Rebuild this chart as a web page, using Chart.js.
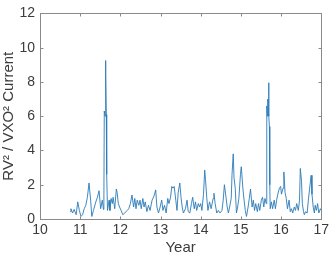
<!DOCTYPE html>
<html><head><meta charset="utf-8">
<script src="https://cdn.jsdelivr.net/npm/chart.js@4"></script>
<style>html,body{margin:0;padding:0;background:#fff}#wrap{width:332px;height:257px}</style>
</head><body><div id="wrap"><canvas id="c" width="332" height="257"></canvas></div>
<script>
const years = [10.75,10.77,10.81,10.85,10.90,10.94,10.98,11.02,11.06,11.10,11.14,11.18,11.22,11.26,11.29,11.33,11.39,11.43,11.47,11.51,11.55,11.58,11.59,11.60,11.62,11.63,11.64,11.65,11.66,11.68,11.72,11.74,11.77,11.80,11.82,11.86,11.90,11.92,11.95,11.98,12.02,12.06,12.11,12.17,12.21,12.25,12.29,12.33,12.36,12.39,12.42,12.46,12.49,12.52,12.56,12.59,12.62,12.66,12.70,12.74,12.79,12.84,12.88,12.91,12.95,12.99,13.03,13.06,13.10,13.14,13.18,13.21,13.25,13.28,13.31,13.34,13.38,13.41,13.44,13.48,13.51,13.54,13.57,13.62,13.66,13.69,13.73,13.77,13.80,13.84,13.87,13.90,13.94,13.97,14.00,14.03,14.07,14.10,14.12,14.15,14.18,14.22,14.26,14.31,14.33,14.36,14.40,14.44,14.48,14.53,14.56,14.59,14.63,14.66,14.69,14.72,14.76,14.78,14.81,14.83,14.86,14.89,14.92,14.95,14.99,15.01,15.05,15.08,15.11,15.14,15.18,15.21,15.24,15.28,15.31,15.34,15.37,15.41,15.44,15.47,15.51,15.54,15.57,15.60,15.63,15.64,15.65,15.66,15.67,15.68,15.69,15.70,15.71,15.72,15.73,15.76,15.79,15.83,15.86,15.89,15.92,15.96,15.99,16.01,16.05,16.07,16.10,16.13,16.16,16.20,16.23,16.26,16.29,16.33,16.36,16.39,16.43,16.46,16.48,16.51,16.53,16.56,16.58,16.61,16.65,16.68,16.71,16.75,16.77,16.80,16.83,16.85,16.88,16.91,16.94,16.98,17.00];
const ratio = [0.43,0.6,0.35,0.56,0.25,1.0,0.5,0.15,0.25,0.6,0.8,1.27,2.1,1.1,0.15,0.5,1.0,1.27,1.65,0.6,1.1,0.55,1.0,6.3,6.0,9.25,8.4,6.1,2.6,0.5,1.1,0.5,1.2,0.9,1.27,0.6,1.75,1.55,0.9,0.7,0.5,0.25,0.35,0.5,0.6,0.9,1.4,0.7,1.2,0.6,1.1,0.8,1.1,0.6,1.2,0.7,1.0,0.43,0.8,0.5,1.1,1.35,1.7,0.7,0.35,0.7,1.1,0.5,0.8,0.35,1.2,0.9,1.27,1.9,1.8,1.9,1.1,0.5,1.55,2.1,1.27,0.7,0.35,0.6,1.1,0.43,0.35,0.9,1.27,0.6,1.0,0.5,0.9,0.7,0.9,0.5,1.45,2.85,2.3,1.27,0.5,1.0,0.6,1.2,1.5,0.9,0.35,0.5,0.35,0.5,1.1,2.0,1.27,0.7,0.35,0.7,1.2,2.6,3.8,2.4,1.8,0.35,0.7,1.2,2.6,3.05,1.8,1.1,0.5,0.15,0.7,1.2,1.75,0.7,1.1,0.5,0.9,0.43,0.9,0.5,1.1,1.27,0.7,1.2,0.9,5.5,6.6,6.0,7.0,6.3,7.95,6.0,5.4,2.0,0.6,1.0,0.6,1.1,0.6,1.1,1.45,1.8,1.9,1.45,1.8,2.75,1.55,1.2,0.6,1.1,0.43,0.6,0.35,0.7,0.5,0.9,0.5,1.1,2.95,2.2,0.9,0.43,0.25,0.43,0.35,1.1,1.75,2.55,1.45,0.7,0.35,0.8,0.5,0.9,0.35,0.6,0.5];
const xTicks = [10,11,12,13,14,15,16,17];
const yTicks = [0,2,4,6,8,10,12];
const xTitle = 'Year';
const yTitle = 'RV\u00B2 / VXO\u00B2 Current';

const AX = '#3c3c3c';
const boxPlugin = {
  id: 'box',
  afterDraw(chart) {
    const {ctx, chartArea: a, scales: {x, y}} = chart;
    ctx.save();
    ctx.strokeStyle = '#8a8a8a';
    ctx.lineWidth = 1;
    const L = Math.round(a.left) + 0.5, R = Math.round(a.right) + 0.5, T = Math.round(a.top) + 0.5, B = Math.round(a.bottom) + 0.5;
    ctx.strokeRect(L, T, R - L, B - T);
    ctx.beginPath();
    xTicks.forEach(v => { const px = Math.round(x.getPixelForValue(v)) + 0.5; ctx.moveTo(px, B); ctx.lineTo(px, B - 3); ctx.moveTo(px, T); ctx.lineTo(px, T + 3); });
    yTicks.forEach(v => { const py = Math.round(y.getPixelForValue(v)) + 0.5; ctx.moveTo(L, py); ctx.lineTo(L + 3, py); ctx.moveTo(R, py); ctx.lineTo(R - 3, py); });
    ctx.stroke();
    ctx.restore();
  }
};

new Chart(document.getElementById('c'), {
  type: 'line',
  data: { datasets: [{ data: years.map((yr, i) => ({x: yr, y: ratio[i]})), borderColor: '#2a7ab8', borderWidth: 0.9, pointRadius: 0, tension: 0, fill: false }] },
  options: {
    responsive: false, animation: false,
    layout: { padding: { top: 5, right: 8, left: 0, bottom: 0 } },
    plugins: { legend: { display: false }, tooltip: { enabled: false } },
    scales: {
      x: {
        type: 'linear', min: 10, max: 17,
        afterBuildTicks: s => { s.ticks = xTicks.map(v => ({value: v})); },
        afterFit: s => { s.height = 38; },
        grid: { display: false, drawTicks: false },
        border: { display: false },
        ticks: { color: AX, font: { family: 'Liberation Sans, Arial', size: 14 }, padding: 3, maxRotation: 0 },
        title: { display: true, text: xTitle, color: AX, font: { family: 'Liberation Sans, Arial', size: 15 }, padding: { top: 0, bottom: 0 } }
      },
      y: {
        min: 0, max: 12,
        afterBuildTicks: s => { s.ticks = yTicks.map(v => ({value: v})); },
        afterFit: s => { s.width = 40; },
        grid: { display: false, drawTicks: false },
        border: { display: false },
        ticks: { color: AX, font: { family: 'Liberation Sans, Arial', size: 14 }, padding: 5 },
        title: { display: true, text: yTitle, color: AX, font: { family: 'Liberation Sans, Arial', size: 15 }, padding: { top: 0, bottom: 0 } }
      }
    }
  },
  plugins: [boxPlugin]
});
</script></body></html>
